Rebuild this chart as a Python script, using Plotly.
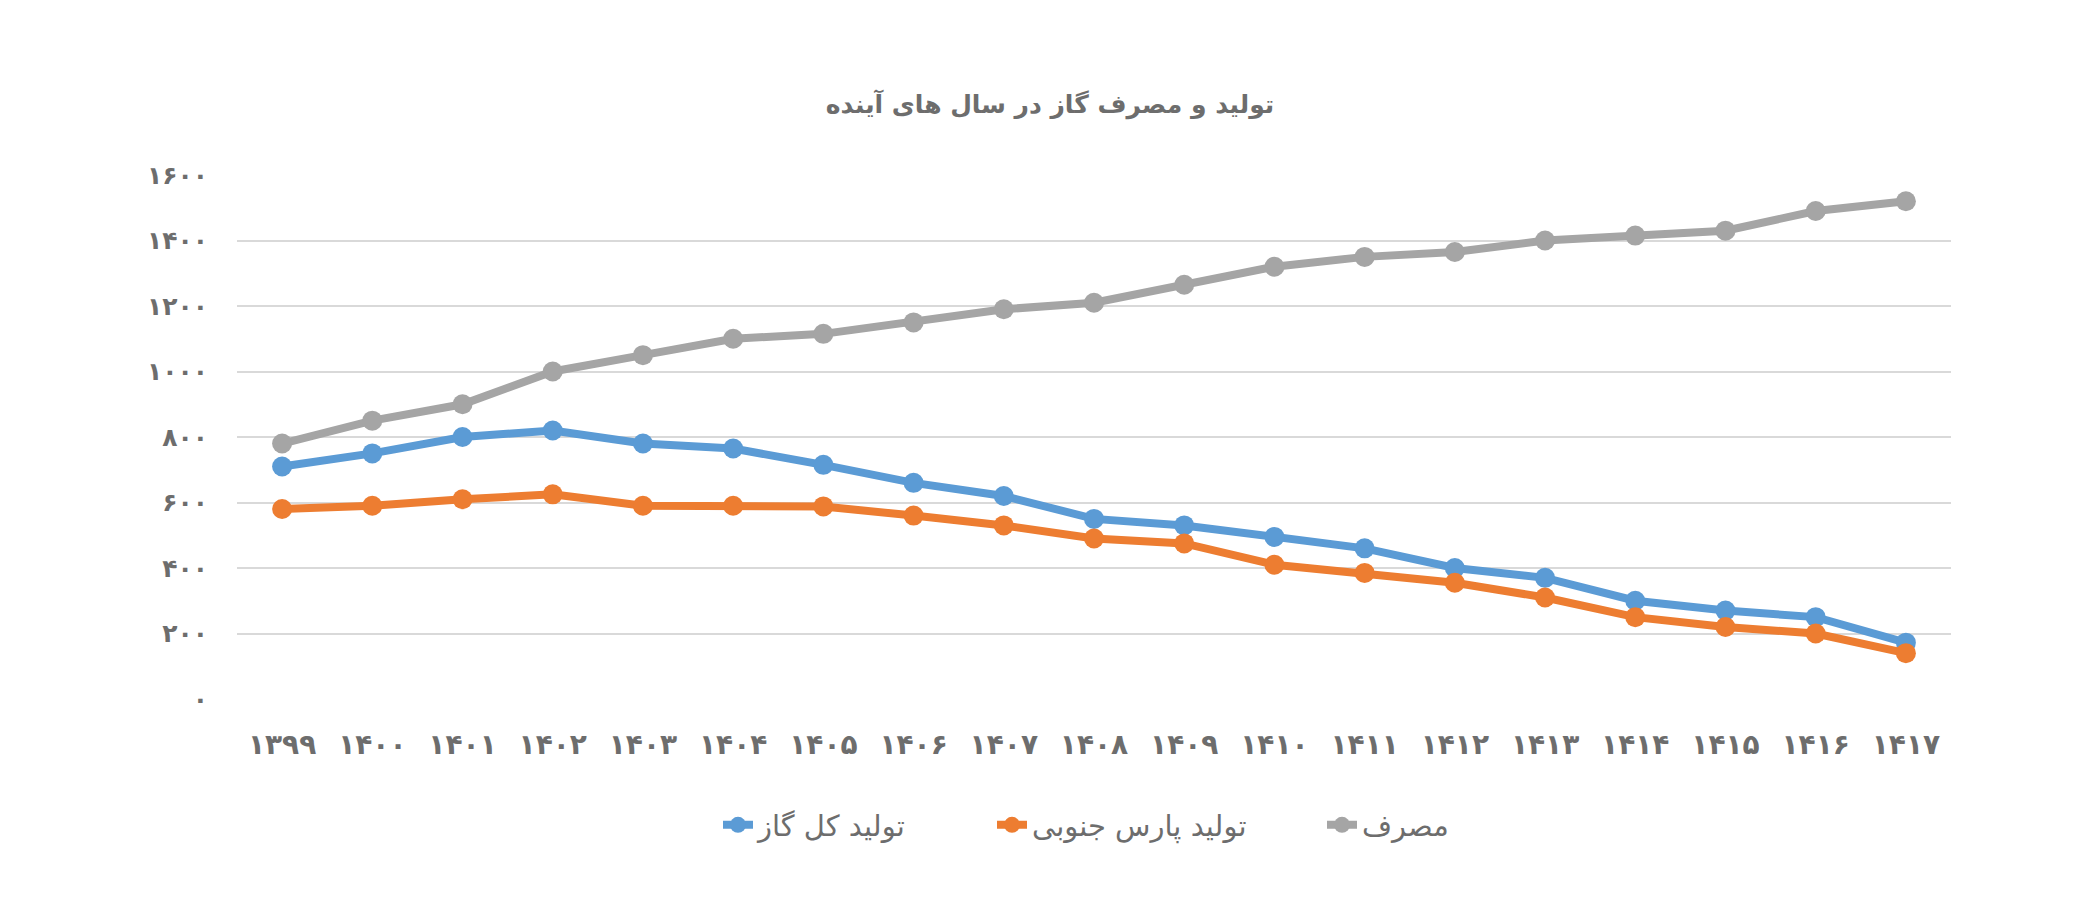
import plotly.graph_objects as go

years = ["۱۳۹۹", "۱۴۰۰", "۱۴۰۱", "۱۴۰۲", "۱۴۰۳", "۱۴۰۴", "۱۴۰۵", "۱۴۰۶", "۱۴۰۷", "۱۴۰۸",
         "۱۴۰۹", "۱۴۱۰", "۱۴۱۱", "۱۴۱۲", "۱۴۱۳", "۱۴۱۴", "۱۴۱۵", "۱۴۱۶", "۱۴۱۷"]
total_production = [710, 750, 800, 820, 780, 765, 715, 660, 620, 550, 530, 495, 460, 400, 370, 300, 270, 250, 172]
south_pars = [580, 590, 610, 625, 590, 590, 588, 560, 530, 490, 475, 410, 385, 355, 310, 250, 220, 200, 140]
consumption = [780, 850, 900, 1000, 1050, 1100, 1115, 1150, 1190, 1210, 1265, 1320, 1350, 1365, 1400, 1415, 1430, 1490, 1520]

series_names = ["تولید کل گاز", "تولید پارس جنوبی", "مصرف"]
series_colors = ["#5B9BD5", "#ED7D31", "#A5A5A5"]
y_tickvals = [0, 200, 400, 600, 800, 1000, 1200, 1400, 1600]
y_ticktext = ["۰", "۲۰۰", "۴۰۰", "۶۰۰", "۸۰۰", "۱۰۰۰", "۱۲۰۰", "۱۴۰۰", "۱۶۰۰"]
title_text = "تولید و مصرف گاز در سال های آینده"

FONT = "DejaVu Sans"
TXT = "#6d6d6d"

legend_ids = ["legend", "legend2", "legend3"]
legend_right_px = [912, 1252, 1454]  # right edge of each legend entry (container px)

fig = go.Figure()
for name, vals, col, lid in zip(series_names, [total_production, south_pars, consumption], series_colors, legend_ids):
    fig.add_trace(go.Scatter(
        x=years, y=vals, name=name, mode="lines+markers",
        line=dict(color=col, width=8),
        marker=dict(color=col, size=20),
        legend=lid,
    ))

legend_common = dict(orientation="h", xref="container", xanchor="right",
                     y=1 - 825 / 924, yref="container", yanchor="middle",
                     font=dict(family=FONT, size=29, color=TXT), bgcolor="rgba(0,0,0,0)")
layout_legends = {}
for lid, xr in zip(legend_ids, legend_right_px):
    layout_legends[lid] = dict(x=xr / 2100, **legend_common)

fig.update_layout(
    width=2100, height=924,
    paper_bgcolor="white", plot_bgcolor="white",
    margin=dict(l=237, r=149, t=175, b=225),
    title=dict(text="<b>" + title_text + "</b>", x=0.5, xref="container", xanchor="center",
               y=1 - 104 / 924, yref="container", yanchor="middle",
               font=dict(family=FONT, size=25, color=TXT)),
    showlegend=True,
    **layout_legends,
)
fig.update_xaxes(type="category", range=[-0.5, len(years) - 0.5], showgrid=False, zeroline=False,
                 showline=False, ticks="", ticklabelstandoff=26,
                 tickfont=dict(family=FONT, size=28, color=TXT, weight="bold"))
fig.update_yaxes(range=[0, 1600], tickvals=y_tickvals, ticktext=y_ticktext,
                 showgrid=True, gridcolor="#D9D9D9", gridwidth=2, zeroline=False,
                 showline=False, ticks="", ticklabelstandoff=28,
                 tickfont=dict(family=FONT, size=25, color=TXT, weight="bold"))

fig.write_html("out.html")
